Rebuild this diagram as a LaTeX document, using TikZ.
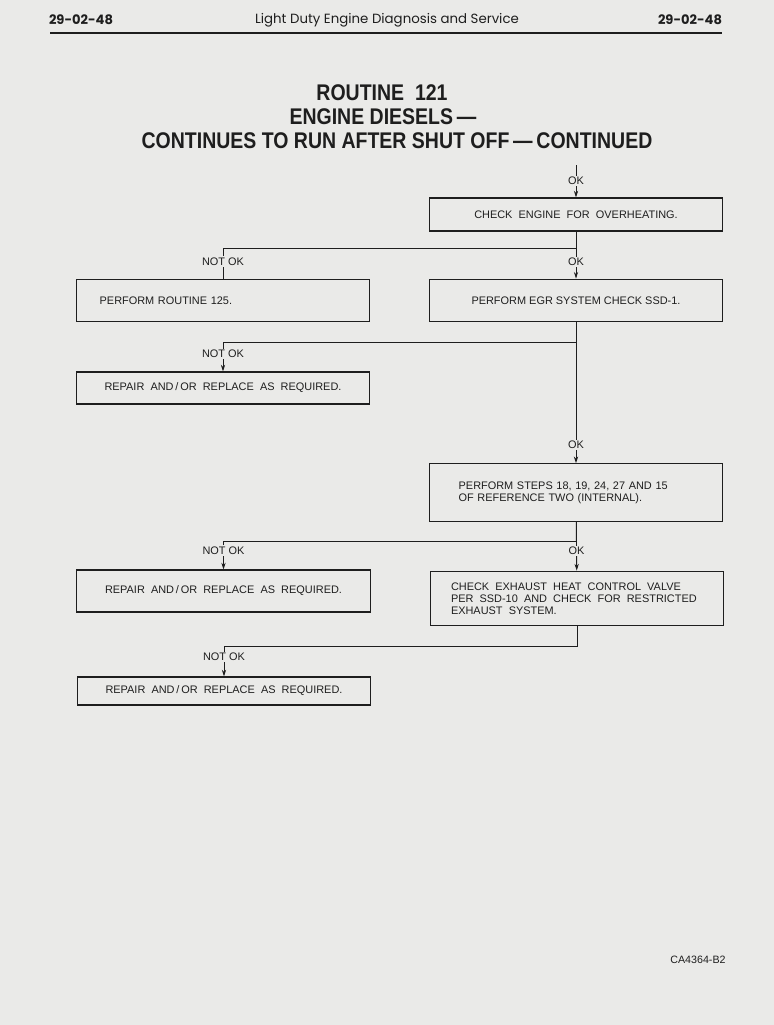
\documentclass[tikz,border=0pt]{standalone}
\usepackage{fontspec}
\setmainfont{Liberation Sans}
\newfontfamily\headfont{Poppins}
\newfontfamily\titlefont[FakeStretch=0.86]{Liberation Sans}
\usetikzlibrary{arrows.meta,positioning,calc}
\definecolor{paper}{HTML}{EAEAE8}
\definecolor{ink}{HTML}{1E1E1E}
\newcommand{\boxfont}{\fontsize{8.2}{9}\selectfont}
\tikzset{
  box/.style={draw=ink, line width=0.9pt, minimum width=220pt, inner sep=2pt, font=\boxfont, text=ink},
  wide/.style={execute at begin node={\spaceskip=4.6pt plus 1pt minus 0.5pt}},
  lbl/.style={fill=paper, inner sep=1pt, font=\boxfont, text=ink},
  flow/.style={-{Stealth[length=5pt,width=3.2pt]}, draw=ink, line width=0.7pt},
  wire/.style={draw=ink, line width=0.7pt},
  ttl/.style={font=\titlefont\bfseries\fontsize{17}{19}\selectfont, text=ink}
}

\begin{document}
\begin{tikzpicture}[x=0.75pt,y=-0.75pt]
  \fill[paper] (0,0) rectangle (774,1025);
  \useasboundingbox (0,0) rectangle (774,1025);
  % page header
  \node[text=ink, font=\headfont\bfseries\fontsize{9.8}{12}\selectfont] (pgl) at (81,20) {29-02-48};
  \node[text=ink, font=\headfont\fontsize{10}{12}\selectfont] (pgt) at (387,20) {Light Duty Engine Diagnosis and Service};
  \node[text=ink, font=\headfont\bfseries\fontsize{9.8}{12}\selectfont] (pgr) at (690,20) {29-02-48};
  \draw[ink, line width=1.4pt] (50,33) -- (722,33);
  % title
  \node[ttl] (t1) at (382,93) {ROUTINE\ \ 121};
  \node[ttl] (t2) at (383,117) {ENGINE DIESELS\,—};
  \node[ttl] (t3) at (397,141) {CONTINUES TO RUN AFTER SHUT OFF\,—\,CONTINUED};

  % boxes
  \node[box, wide, minimum height=24.75pt] (chk) at (576,214.5) {CHECK ENGINE FOR OVERHEATING.};
  \node[box, minimum height=32pt] (egr) at (576,300.5) {PERFORM EGR SYSTEM CHECK SSD-1.};
  \node[box, minimum height=32pt, text width=185pt, align=left] (r125) at (223,300.5) {PERFORM ROUTINE 125.};
  \node[box, wide, minimum height=24pt] (rep1) at (223,388) {REPAIR AND\,/\,OR REPLACE AS REQUIRED.};
  \node[box, minimum height=43pt, text width=176pt, align=left] (steps) at (576,492.5) {PERFORM STEPS 18, 19, 24, 27 AND 15\\OF REFERENCE TWO (INTERNAL).};
  \node[box, wide, minimum height=31.5pt] (rep2) at (223.5,591) {REPAIR AND\,/\,OR REPLACE AS REQUIRED.};
  \node[box, wide, minimum height=41pt, text width=189pt, align=left] (exh) at (577,598.5) {CHECK EXHAUST HEAT CONTROL VALVE\\PER SSD-10 AND CHECK FOR RESTRICTED\\EXHAUST SYSTEM.};
  \node[box, wide, minimum height=21pt] (rep3) at (224,691) {REPAIR AND\,/\,OR REPLACE AS REQUIRED.};

  % junctions
  \coordinate (in) at (576,165);
  \coordinate (j1) at (chk.south |- 0,248);
  \coordinate (j2) at (egr.south |- 0,342);
  \coordinate (j3) at (steps.south |- 0,541);
  \coordinate (j4) at (exh.south |- 0,646);

  % connectors
  \draw[flow] (in) -- node[lbl]{OK} (chk);
  \draw[flow] (chk) -- node[lbl, pos=.65]{OK} (egr);
  \draw[wire] (j1) -| node[lbl, pos=.72]{NOT OK} (r125);
  \draw[flow] (egr) -- node[lbl, pos=.87]{OK} (steps);
  \draw[flow] (j2) -| node[lbl, pos=.7]{NOT OK} (rep1);
  \draw[flow] (steps) -- node[lbl, pos=.6]{OK} (exh);
  \draw[flow] (j3) -| node[lbl, pos=.67]{NOT OK} (rep2);
  \draw[flow] (exh) -- (j4) -| node[lbl, pos=.68]{NOT OK} (rep3);

  \node[text=ink, font=\fontsize{8}{9}\selectfont] (fig) at (698,960) {CA4364-B2};
\end{tikzpicture}
\end{document}
